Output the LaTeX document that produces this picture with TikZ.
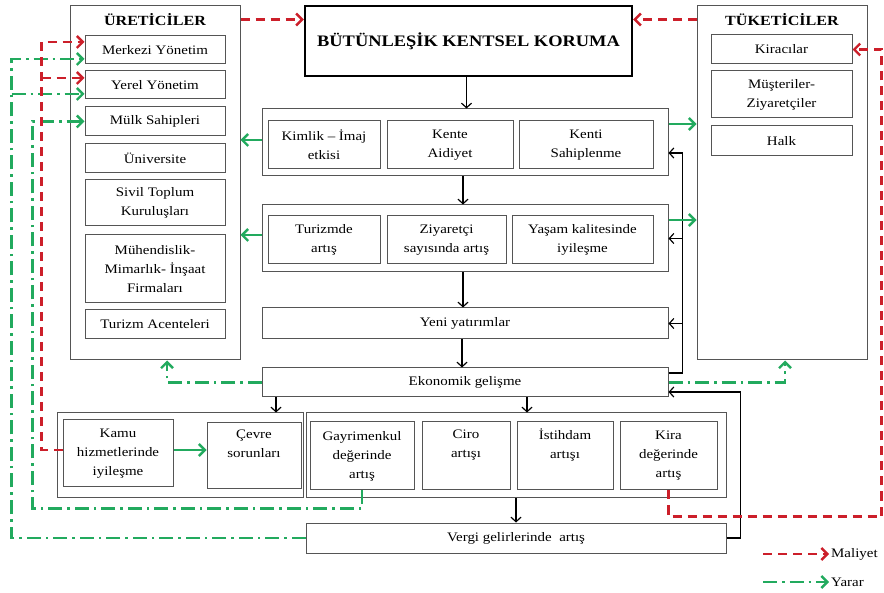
\documentclass[tikz,border=0pt]{standalone}
\usepackage{fontspec}
\setmainfont{Liberation Serif}[FakeStretch=1.15]
\usetikzlibrary{arrows.meta}
\definecolor{cred}{HTML}{CC1F2A}
\definecolor{cgreen}{HTML}{22AA5E}
\definecolor{bgray}{HTML}{555555}
\begin{document}
\begin{tikzpicture}[x=1pt,y=-1pt,
  box/.style={draw=bgray, line width=1pt, fill=white, align=center, inner sep=0pt, font=\fontsize{13}{19}\selectfont},
  grp/.style={draw=bgray, line width=1pt, fill=white, inner sep=0pt},
  arr/.style={line width=1.2pt, -{Straight Barb[length=4.5pt,width=10pt]}},
  garr/.style={draw=cgreen, line width=2.4pt, -{Straight Barb[length=6pt,width=12pt]}},
  gdd/.style={garr, dash pattern=on 14pt off 5pt on 2.5pt off 5pt},
  rdd/.style={draw=cred, line width=2.4pt, dash pattern=on 9pt off 6pt, -{Straight Barb[length=6pt,width=12pt]}},
  ttl/.style={inner sep=0pt, font=\fontsize{14}{16}\selectfont\bfseries},
  lgd/.style={inner sep=0pt, font=\fontsize{13}{16}\selectfont}
]
\useasboundingbox (0,0) rectangle (884,593);

% producers
\node[grp, minimum width=170pt, minimum height=354pt] (uret) at (155,183) {};
\node[ttl] (uretT) at (155,20) {ÜRETİCİLER};
\node[box, minimum width=140pt, minimum height=28pt] (merkezi) at (155,50) {Merkezi Yönetim};
\node[box, minimum width=140pt, minimum height=28pt] (yerel) at (155,85) {Yerel Yönetim};
\node[box, minimum width=140pt, minimum height=29pt] (mulk) at (155,121.5) {Mülk Sahipleri};
\node[box, minimum width=140pt, minimum height=29pt] (univ) at (155,158.5) {Üniversite};
\node[box, minimum width=140pt, minimum height=46pt] (sivil) at (155,203) {Sivil Toplum\\Kuruluşları};
\node[box, minimum width=140pt, minimum height=68pt] (muh) at (155,269) {Mühendislik-\\Mimarlık- İnşaat\\Firmaları};
\node[box, minimum width=140pt, minimum height=29pt] (turacc) at (155,324.5) {Turizm Acenteleri};

% consumers
\node[grp, minimum width=170pt, minimum height=354pt] (tuk) at (782,183) {};
\node[ttl] (tukT) at (782,20) {TÜKETİCİLER};
\node[box, minimum width=141pt, minimum height=29pt] (kiraci) at (781.5,49.5) {Kiracılar};
\node[box, minimum width=141pt, minimum height=47pt] (musteri) at (781.5,94.5) {Müşteriler-\\Ziyaretçiler};
\node[box, minimum width=141pt, minimum height=30pt] (halk) at (781.5,141) {Halk};

% center
\node[draw=black, line width=2.4pt, fill=white, minimum width=327pt, minimum height=70pt, inner sep=0pt,
  font=\fontsize{16}{18}\selectfont\bfseries] (kbk) at (468.5,41) {BÜTÜNLEŞİK KENTSEL KORUMA};

\node[grp, minimum width=406pt, minimum height=67pt] (g1) at (465,142.5) {};
\node[box, minimum width=112pt, minimum height=48pt] (kimlik) at (324,145) {Kimlik – İmaj\\etkisi};
\node[box, minimum width=126pt, minimum height=48pt] (aidiyet) at (450,145) {Kente\\Aidiyet};
\node[box, minimum width=134pt, minimum height=48pt] (sahip) at (586,145) {Kenti\\Sahiplenme};

\node[grp, minimum width=406pt, minimum height=67pt] (g2) at (465,238.5) {};
\node[box, minimum width=112pt, minimum height=48pt] (turizm) at (324,240) {Turizmde\\artış};
\node[box, minimum width=119pt, minimum height=48pt] (ziyaret) at (446.5,240) {Ziyaretçi\\sayısında artış};
\node[box, minimum width=141pt, minimum height=48pt] (yasam) at (582.5,240) {Yaşam kalitesinde\\iyileşme};

\node[box, minimum width=406pt, minimum height=31pt] (yeni) at (465,323.5) {Yeni yatırımlar};
\node[box, minimum width=406pt, minimum height=29pt] (eko) at (465,382.5) {Ekonomik gelişme};

% bottom groups
\node[grp, minimum width=246pt, minimum height=85pt] (gL) at (180,455.5) {};
\node[box, minimum width=110pt, minimum height=67pt] (kamu) at (118,453.5) {Kamu\\hizmetlerinde\\iyileşme};
\node[box, minimum width=94pt, minimum height=66pt] (cevre) at (254,456) {Çevre\\sorunları\\\strut};

\node[grp, minimum width=420pt, minimum height=85pt] (gR) at (516,455.5) {};
\node[box, minimum width=104pt, minimum height=68pt] (gayri) at (362,456) {Gayrimenkul\\değerinde\\artış};
\node[box, minimum width=88pt, minimum height=68pt] (ciro) at (466,456) {Ciro\\artışı\\\strut};
\node[box, minimum width=96pt, minimum height=68pt] (istih) at (565,456) {İstihdam\\artışı\\\strut};
\node[box, minimum width=97pt, minimum height=68pt] (kira) at (668.5,456) {Kira\\değerinde\\artış};

\node[box, minimum width=420pt, minimum height=30pt] (vergi) at (516,538) {Vergi gelirlerinde\ \ artış};

% black flow
\draw[arr] ([xshift=-2pt]kbk.south) -- ([xshift=-2pt]kbk.south |- g1.north);
\draw[arr] ([xshift=-2pt]g1.south) -- ([xshift=-2pt]g1.south |- g2.north);
\draw[arr] ([xshift=-2pt]g2.south) -- ([xshift=-2pt]g2.south |- yeni.north);
\draw[arr] ([xshift=-3pt]yeni.south) -- ([xshift=-3pt]yeni.south |- eko.north);
\draw[arr] ([yshift=9.5pt]eko.east) -- ++(14,0) coordinate (fb) |- ([yshift=-10.5pt]g1.east);
\draw[arr] (fb |- g2.east) -- (g2.east);
\draw[arr] (fb |- yeni.east) -- (yeni.east);
\draw[arr] (vergi.east) -- ++(14,0) |- ([yshift=-9.5pt]eko.east);
\coordinate (a1) at ([xshift=96pt]gL.north);
\coordinate (a2) at ([xshift=11pt]gR.north);
\draw[arr] (eko.south -| a1) -- (a1);
\draw[arr] (eko.south -| a2) -- (a2);
\draw[arr] (gR.south) -- (vergi.north);

% green solid
\draw[garr] ([yshift=18.5pt]g1.east) coordinate (t1) -- (t1 -| tuk.west);
\draw[garr] ([yshift=18.5pt]g2.east) coordinate (t2) -- (t2 -| tuk.west);
\draw[garr] ([yshift=2.5pt]g1.west) coordinate (t3) -- (t3 -| uret.east);
\draw[garr] ([yshift=3.5pt]g2.west) coordinate (t4) -- (t4 -| uret.east);
\draw[garr] ([yshift=3.5pt]kamu.east) coordinate (t5) -- (t5 -| cevre.west);

% green dash-dot
\draw[gdd] (eko.west) -| ([xshift=12pt]uret.south);
\draw[gdd] (eko.east) -| ([xshift=3pt]tuk.south);
\draw[gdd] (gayri.south) -- ++(0,18) -| ([xshift=-52pt]mulk.west) -- (mulk.west);
\draw[gdd] (vergi.west) -| ([xshift=-73pt,yshift=-9pt]merkezi.west) -- ([yshift=-9pt]merkezi.west);
\draw[gdd] ([xshift=-73pt,yshift=-9pt]yerel.west) -- ([yshift=-9pt]yerel.west);

% red dashed
\draw[rdd] ([yshift=-14pt]uret.north east) coordinate (r1) -- (r1 -| kbk.west);
\draw[rdd] ([yshift=-14pt]tuk.north west) coordinate (r2) -- (r2 -| kbk.east);
\draw[rdd] ([yshift=3.5pt]kamu.west) -| ([xshift=-43pt,yshift=8pt]merkezi.west) -- ([yshift=8pt]merkezi.west);
\draw[rdd] ([xshift=-43pt,yshift=7pt]yerel.west) -- ([yshift=7pt]yerel.west);
\draw[rdd] (kira.south) -- ++(0,26) -| ([xshift=29pt]kiraci.east) -- (kiraci.east);

% legend
\node[lgd, anchor=west] (lm) at (831,554) {Maliyet};
\node[lgd, anchor=west] (ly) at (831,582) {Yarar};
\coordinate (lm0) at (763,554);
\coordinate (ly0) at (763,582);
\draw[rdd] (lm0) -- ([xshift=-2pt]lm.west);
\draw[gdd] (ly0) -- ([xshift=-2pt]ly.west);
\end{tikzpicture}
\end{document}
